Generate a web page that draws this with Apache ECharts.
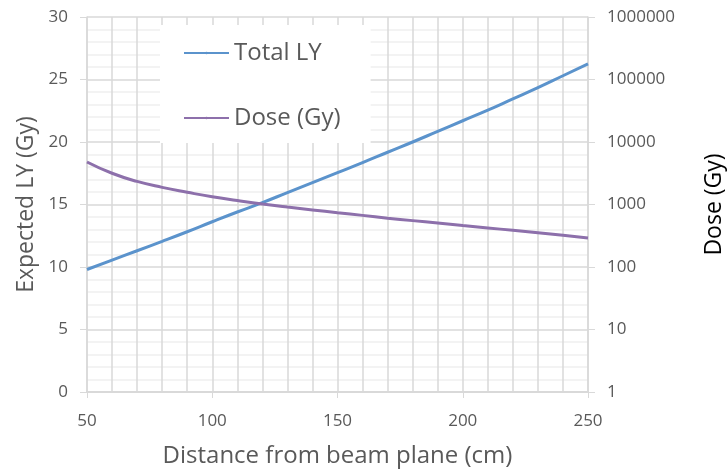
<!DOCTYPE html>
<html>
<head>
<meta charset="utf-8">
<script src="https://cdn.jsdelivr.net/npm/echarts@6/dist/echarts.min.js"></script>
<style>html,body{margin:0;padding:0;background:#fff}#c{width:728px;height:470px}</style>
</head>
<body>
<div id="c"></div>
<script>
const distances = [50,60,70,80,90,100,110,120,130,140,150,160,170,180,190,200,210,220,230,240,250];
const totalLY = [9.8,10.55,11.3,12.05,12.82,13.62,14.4,15.15,15.95,16.75,17.55,18.35,19.18,20.0,20.85,21.7,22.55,23.45,24.35,25.3,26.25];
const doseGy = [4790,3160,2340,1880,1570,1330,1160,1020,910,820,740,670,605,552,504,460,422,386,353,321,292];
const leftTicks = [0,5,10,15,20,25,30];
const rightTicks = [1,10,100,1000,10000,100000,1000000];

const FONT = 'Open Sans';
const GRAY = '#595959';
const chart = echarts.init(document.getElementById('c'));
chart.setOption({
  animation: false,
  backgroundColor: '#fff',
  textStyle: { fontFamily: FONT },
  grid: { left: 87, right: 140, top: 17, bottom: 78, containLabel: false, outerBoundsMode: 'none' },
  legend: {
    orient: 'vertical', left: 160, top: 25,
    backgroundColor: '#fff',
    padding: [14, 30, 11, 23],
    itemWidth: 45, itemHeight: 3, itemGap: 37,
    textStyle: { fontFamily: FONT, fontSize: 24, color: GRAY, lineHeight: 28 },
    data: ['Total LY', 'Dose (Gy)']
  },
  xAxis: {
    type: 'value', min: 50, max: 250, interval: 50,
    name: 'Distance from beam plane (cm)', nameLocation: 'middle', nameGap: 52,
    nameTextStyle: { fontFamily: FONT, fontSize: 24, color: GRAY },
    axisLine: { show: true, lineStyle: { color: '#d9d9d9', width: 2 } },
    axisTick: { show: true, length: 6, lineStyle: { color: '#d9d9d9' } },
    axisLabel: { fontFamily: FONT, fontSize: 17, color: GRAY, margin: 21 },
    splitLine: { show: true, lineStyle: { color: '#d9d9d9', width: 1.5 } },
    minorTick: { show: false, splitNumber: 5 },
    minorSplitLine: { show: true, lineStyle: { color: '#d9d9d9', width: 1.5 } }
  },
  yAxis: [{
    type: 'value', min: 0, max: 30, interval: 5,
    name: 'Expected LY (Gy)', nameLocation: 'middle', nameGap: 47, nameRotate: 90,
    nameTextStyle: { fontFamily: FONT, fontSize: 23, color: GRAY },
    axisLine: { show: true, lineStyle: { color: '#d9d9d9', width: 1.5 } },
    axisTick: { show: true, length: 7, lineStyle: { color: '#d9d9d9' } },
    axisLabel: { fontFamily: FONT, fontSize: 17, color: GRAY, margin: 19,
      formatter: v => leftTicks.includes(v) ? String(v) : '' },
    splitLine: { show: true, lineStyle: { color: '#d9d9d9', width: 1.5 } },
    minorTick: { show: false, splitNumber: 5 },
    minorSplitLine: { show: true, lineStyle: { color: '#efefef', width: 1.5 } }
  }, {
    type: 'log', logBase: 10, min: 1, max: 1000000, position: 'right',
    name: 'Dose (Gy)', nameLocation: 'middle', nameGap: 115, nameRotate: 90,
    nameTextStyle: { fontFamily: FONT, fontSize: 23, color: '#000' },
    axisLine: { show: true, lineStyle: { color: '#d9d9d9', width: 1.5 } },
    axisTick: { show: true, length: 7, lineStyle: { color: '#d9d9d9' } },
    axisLabel: { fontFamily: FONT, fontSize: 17, color: GRAY, margin: 19,
      formatter: v => rightTicks.includes(Math.round(v)) ? String(Math.round(v)) : '' },
    splitLine: { show: false }
  }],
  series: [{
    name: 'Total LY', type: 'line', yAxisIndex: 0, symbol: 'none', smooth: true,
    data: distances.map((d, i) => [d, totalLY[i]]),
    lineStyle: { color: '#5b93cc', width: 3 }, itemStyle: { color: '#5b93cc' }
  }, {
    name: 'Dose (Gy)', type: 'line', yAxisIndex: 1, symbol: 'none', smooth: true,
    data: distances.map((d, i) => [d, doseGy[i]]),
    lineStyle: { color: '#8d70ab', width: 3 }, itemStyle: { color: '#8d70ab' }
  }]
});
</script>
</body>
</html>
